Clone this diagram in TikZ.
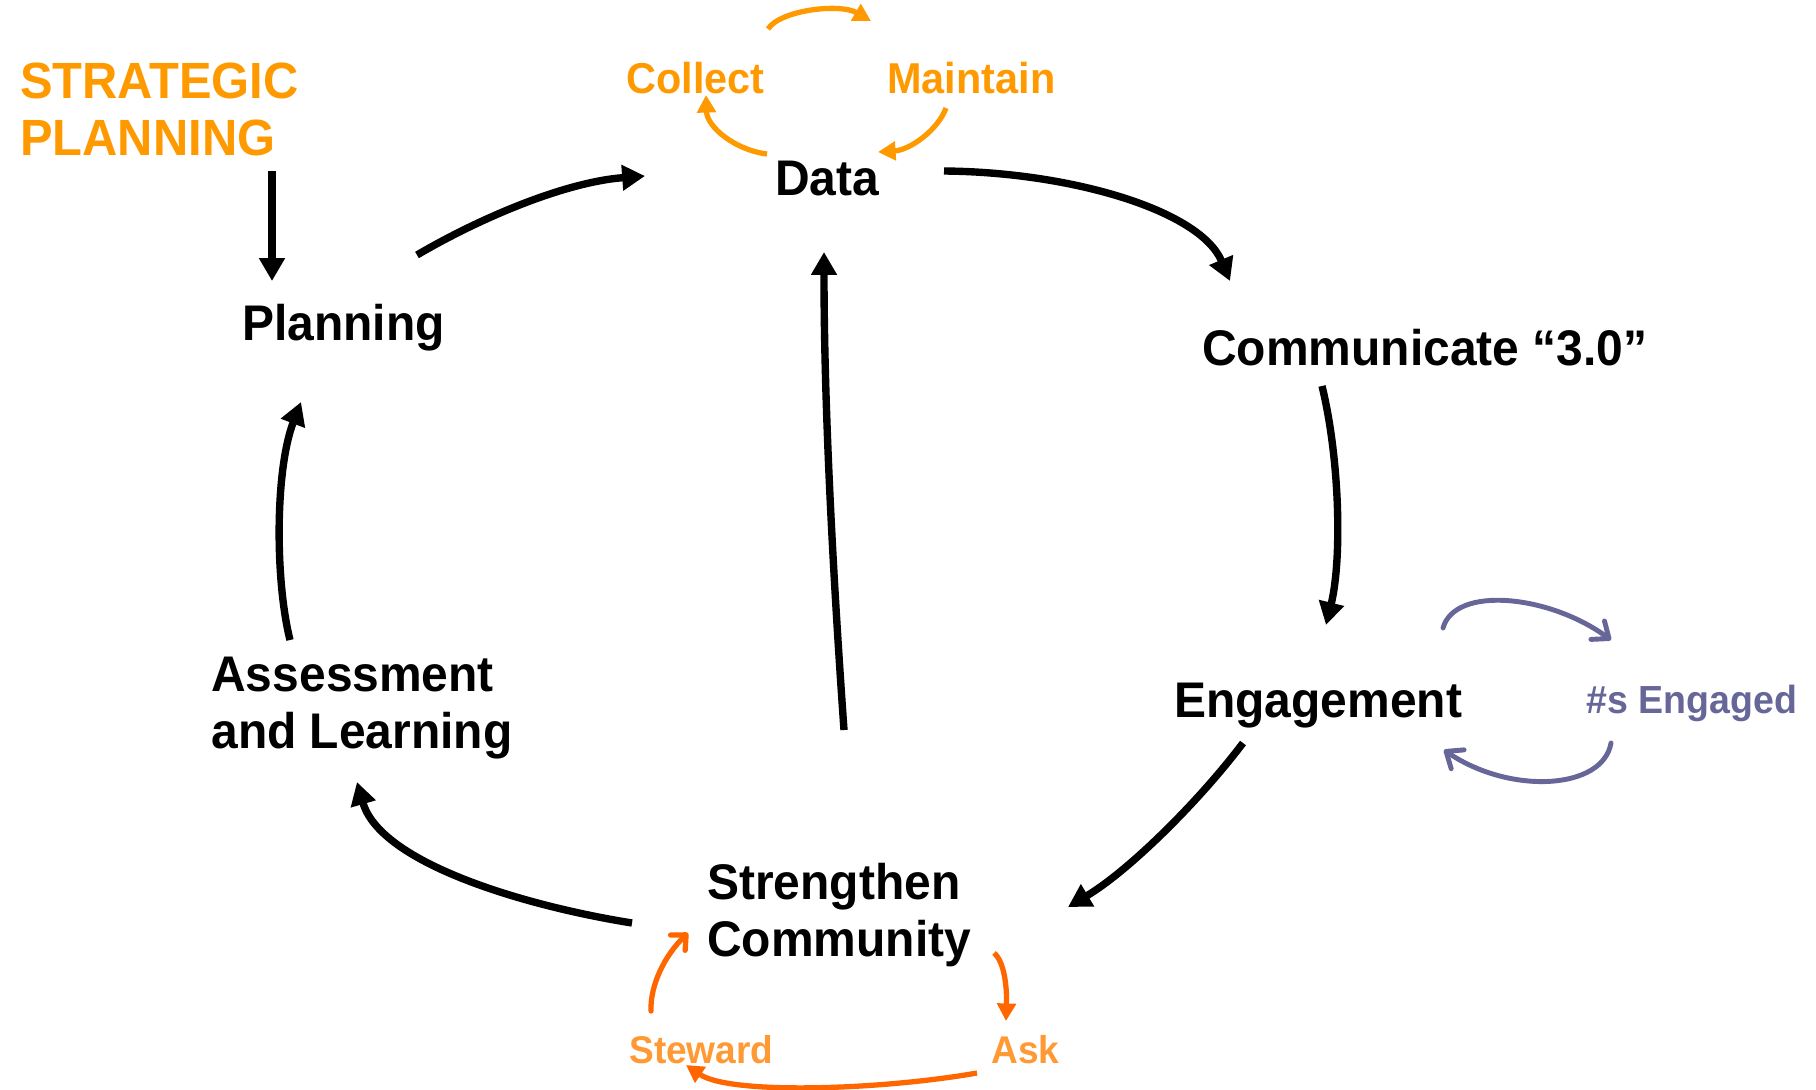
\documentclass[tikz,border=0pt]{standalone}
\usepackage{fontspec}
\setmainfont[FakeStretch=0.958]{Liberation Sans}
\usetikzlibrary{arrows.meta,calc}
\definecolor{orgA}{HTML}{FF9900}
\definecolor{orgB}{HTML}{FF6600}
\definecolor{orgT}{HTML}{FF9933}
\definecolor{purp}{HTML}{666699}
\begin{document}
\begin{tikzpicture}[x=0.02cm,y=-0.02cm,
  lbl/.style={inner sep=0pt, font=\bfseries\fontsize{28.5}{32.3}\selectfont, text=black},
  strat/.style={inner sep=0pt, font=\bfseries\fontsize{29}{32.3}\selectfont, text=orgA, align=left},
  dlbl/.style={inner sep=0pt, font=\bfseries\fontsize{24.6}{28}\selectfont, text=orgA},
  plbl/.style={inner sep=0pt, font=\bfseries\fontsize{22.3}{26}\selectfont, text=purp},
  slbl/.style={inner sep=0pt, font=\bfseries\fontsize{22}{26}\selectfont, text=orgT},
  blk/.style={line width=4.2pt, -{Triangle[length=13pt,width=14pt]}},
  oar/.style={draw=orgA, line width=3pt, -{Triangle[length=10pt,width=10.5pt]}},
  rar/.style={draw=orgB, line width=3pt, -{Triangle[length=10pt,width=10.5pt]}},
  rbarb/.style={draw=orgB, line width=3pt, line cap=round, -{Straight Barb[length=6.5pt,width=12pt,round]}},
  par/.style={draw=purp, line width=2.8pt, line cap=round, -{Straight Barb[length=8pt,width=13pt,round]}}]
\useasboundingbox (0,0) rectangle (1816,1089);

% nodes
\node[strat, anchor=north west] (sp) at (20,63) {STRATEGIC\\PLANNING};
\node[lbl, anchor=base west] (pl) at (242,340) {Planning};
\node[lbl, anchor=base west] (da) at (775,195) {Data};
\node[lbl, anchor=base west] (cm) at (1202,365) {Communicate “3.0”};
\node[lbl, anchor=base west] (en) at (1174,717) {Engagement};
\node[lbl, anchor=north west, align=left] (as) at (211,657) {Assessment\\and Learning};
\node[lbl, anchor=north west, align=left] (sc) at (707,863) {Strengthen\\Community};
\node[dlbl, anchor=base west] (co) at (626,93) {Collect};
\node[dlbl, anchor=base west] (ma) at (887,93) {Maintain};
\node[plbl, anchor=base west] (ne) at (1586,713) {\#s Engaged};
\node[slbl, anchor=base west] (st) at (629,1063) {Steward};
\node[slbl, anchor=base west] (ak) at (991,1063) {Ask};

% main cycle
\draw[blk] ($(sp.north west)+(252,108)$) -- ($(pl.base west)+(30,-59)$);
\draw[blk] ($(pl.base west)+(175,-85)$) .. controls +(63,-37) and +(-80,6) .. ($(da.base west)+(-130,-19)$);
\draw[blk] ($(da.base west)+(169,-24)$) .. controls +(126,1) and +(-30,-71) .. ($(cm.base west)+(28,-84)$);
\draw[blk] ($(cm.base west)+(120,21)$) .. controls +(18,74) and +(16,-65) .. ($(en.base west)+(152,-92)$);
\draw[blk] ($(en.base west)+(69,26)$) .. controls +(-43,57) and +(62,-37) .. ($(sc.north west)+(361,44)$);
\draw[blk] ($(sc.north west)+(-75,60)$) .. controls +(-112,-18) and +(23,80) .. ($(as.north west)+(146,125)$);
\draw[blk] ($(as.north west)+(79,-17)$) .. controls +(-15,-60) and +(-26,68) .. ($(pl.base west)+(59,62)$);
\draw[blk] ($(sc.north west)+(137,-133)$) .. controls +(-12,-170) and +(0,148) .. ($(da.base west)+(49,57)$);

% data cycle
\draw[oar] ($(da.base west)+(-8,-41)$) .. controls +(-32,-4) and +(1,32) .. ($(co.base west)+(80,2)$);
\draw[oar] ($(co.base west)+(142,-64)$) .. controls +(12,-19) and +(-31,-18) .. ($(ma.base west)+(-16,-72)$);
\draw[oar] ($(ma.base west)+(59,15)$) .. controls +(-8,22) and +(32,-2) .. ($(da.base west)+(103,-43)$);

% engagement cycle
\draw[par] ($(en.base west)+(269,-89)$) .. controls +(12,-43) and +(-61,-45) .. ($(ne.base west)+(25,-73)$);
\draw[par] ($(ne.base west)+(25,30)$) .. controls +(-8,47) and +(66,45) .. ($(en.base west)+(270,33)$);

% community cycle
\draw[rbarb] ($(st.base west)+(22,-52)$) .. controls +(-1,-26) and +(-23,22) .. ($(sc.north west)+(-19,70)$);
\draw[rar] ($(sc.north west)+(287,90)$) .. controls +(11,9) and +(1,-31) .. ($(ak.base west)+(15,-42)$);
\draw[rar] ($(ak.base west)+(-14,10)$) .. controls +(-97,17) and +(44,30) .. ($(st.base west)+(57,2)$);
\end{tikzpicture}
\end{document}
